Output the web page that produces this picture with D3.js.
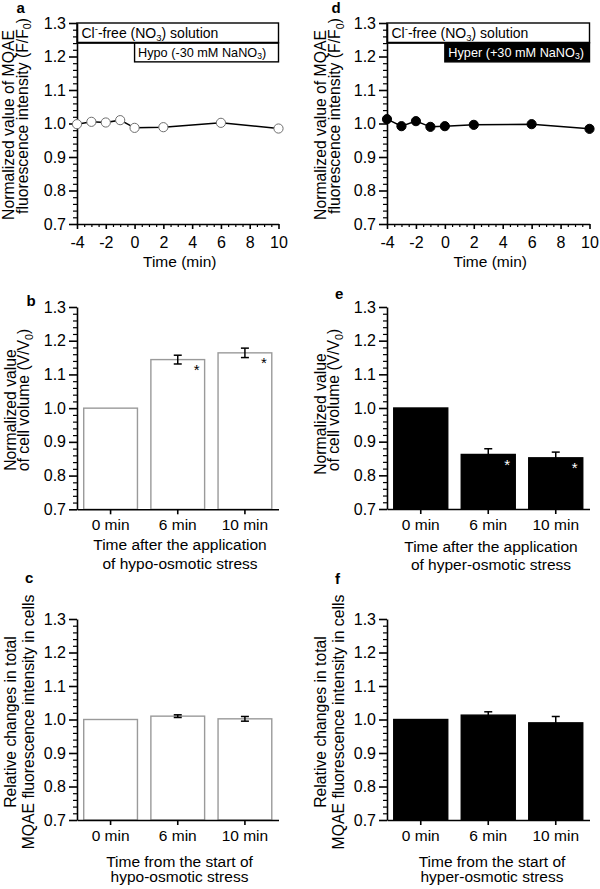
<!DOCTYPE html>
<html><head><meta charset="utf-8">
<script src="https://cdn.jsdelivr.net/npm/d3@7"></script>
<style>
body{margin:0;background:#fff}
svg{display:block;font-family:"Liberation Sans",Arial,Helvetica,sans-serif}
</style></head><body>
<svg id="chart" width="600" height="889"></svg>
<script>
// ---------- data ----------
const timeMin = [-4, -3, -2, -1, 0, 2, 6, 10];
const hypoMQAE = [0.998, 1.005, 1.003, 1.010, 0.987, 0.989, 1.002, 0.985];
const hyperMQAE = [1.013, 0.992, 1.007, 0.990, 0.992, 0.996, 0.998, 0.984];
const barCategories = ["0 min", "6 min", "10 min"];
const hypoVolume = [1.0, 1.144, 1.164];
const hypoVolumeErr = [0, 0.013, 0.014];
const hyperVolume = [1.0, 0.862, 0.852];
const hyperVolumeErr = [0, 0.017, 0.017];
const hypoTotal = [1.0, 1.010, 1.002];
const hypoTotalErr = [0, 0.004, 0.007];
const hyperTotal = [1.0, 1.013, 0.990];
const hyperTotalErr = [0, 0.010, 0.019];
const volumeSignificant = [false, true, true];
const totalSignificant = [false, false, false];
const yTicks = [0.7, 0.8, 0.9, 1.0, 1.1, 1.2, 1.3];
const timeTicks = [-4, -2, 0, 2, 4, 6, 8, 10];
const yDomain = [0.7, 1.3];
const timeDomain = [-4, 10];

// ---------- helpers ----------
const svg = d3.select("#chart");
const FONT_TICK = 16, FONT_TITLE = 15.5, FONT_YTITLE = 15.75;

function styleAxis(sel, w) {
  sel.selectAll("path.domain").attr("stroke", "#000").attr("stroke-width", w);
  sel.selectAll(".tick line").attr("stroke", "#000").attr("stroke-width", w);
  sel.selectAll(".tick text").attr("fill", "#000").attr("font-family", null);
  sel.attr("font-family", null);
}

function drawYAxis(x0, y) {
  const minor = d3.range(0, 31).map(i => +(0.7 + i * 0.02).toFixed(2))
    .filter(v => Math.abs(v * 10 - Math.round(v * 10)) > 1e-6);
  const gm = svg.append("g").attr("transform", `translate(${x0},0)`)
    .call(d3.axisLeft(y).tickValues(minor).tickSize(4).tickFormat("").tickSizeOuter(0));
  gm.select(".domain").remove();
  styleAxis(gm, 1.2);
  const g = svg.append("g").attr("transform", `translate(${x0},0)`)
    .call(d3.axisLeft(y).tickValues(yTicks).tickSize(8).tickPadding(3).tickSizeOuter(0)
      .tickFormat(d3.format(".1f")));
  g.attr("font-size", FONT_TICK);
  styleAxis(g, 1.6);
}

function richText(parent, x, y, segs, size, opts = {}) {
  const t = parent.append("text").attr("x", x).attr("y", y).attr("font-size", size)
    .attr("fill", opts.fill || "#000");
  if (opts.anchor) t.attr("text-anchor", opts.anchor);
  if (opts.rotate) t.attr("transform", `rotate(-90,${x},${y})`);
  let shift = 0;
  segs.forEach(s => {
    const kind = typeof s === "string" ? "n" : s.k;
    const txt = typeof s === "string" ? s : s.t;
    let target = 0, fs = size;
    if (kind === "sub") { target = size * 0.22; fs = size * 0.68; }
    if (kind === "sup") { target = -size * 0.38; fs = size * 0.68; }
    t.append("tspan").attr("dy", target - shift).attr("font-size", fs).text(txt);
    shift = target;
  });
  return t;
}

function yTitle(lines) {
  lines.forEach(l => richText(svg, l.x, l.y, l.segs, FONT_YTITLE, { anchor: "middle", rotate: true }));
}

function panelLetter(ch, x, y) {
  svg.append("text").attr("x", x).attr("y", y).attr("font-size", 15)
    .attr("font-weight", "bold").attr("fill", "#000").text(ch);
}

// ---------- line panels ----------
function linePanel(p) {
  const x = d3.scaleLinear().domain(timeDomain).range([p.x0, p.x1]);
  const y = d3.scaleLinear().domain(yDomain).range([p.yBot, p.yTop]);

  // annotation boxes
  const bTop = 1.3, bMid = 1.241, bBot = 1.184;
  svg.append("rect").attr("x", x(-4)).attr("y", y(bTop)).attr("width", x(10) - x(-4))
    .attr("height", y(bMid) - y(bTop)).attr("fill", "#fff").attr("stroke", "#000").attr("stroke-width", 1.4);
  svg.append("rect").attr("x", x(0)).attr("y", y(bMid)).attr("width", x(10) - x(0))
    .attr("height", y(bBot) - y(bMid)).attr("fill", p.filled ? "#000" : "#fff")
    .attr("stroke", "#000").attr("stroke-width", 1.4);
  svg.append("line").attr("x1", x(-4)).attr("x2", x(10)).attr("y1", y(bMid)).attr("y2", y(bMid))
    .attr("stroke", "#000").attr("stroke-width", 2);
  richText(svg, x(-4) + 4.5, y(bTop) + 14.5,
    ["Cl", { k: "sup", t: "-" }, "-free (NO", { k: "sub", t: "3" }, ") solution"], 14);
  richText(svg, x(0) + 3.5, y(bMid) + 13.8, p.boxText, 12.7, { fill: p.filled ? "#fff" : "#000" });

  drawYAxis(p.x0, y);

  // x axis
  const minorX = d3.range(-4, 10.01, 0.5).filter(v => v % 2 !== 0);
  const gm = svg.append("g").attr("transform", `translate(0,${p.yBot})`)
    .call(d3.axisBottom(x).tickValues(minorX).tickSize(3).tickFormat("").tickSizeOuter(0));
  gm.select(".domain").remove();
  styleAxis(gm, 1.2);
  const gx = svg.append("g").attr("transform", `translate(0,${p.yBot})`)
    .call(d3.axisBottom(x).tickValues(timeTicks).tickSize(5).tickPadding(8).tickSizeOuter(0)
      .tickFormat(d => d < 0 ? "-" + Math.abs(d) : String(d)));
  gx.attr("font-size", FONT_TICK);
  styleAxis(gx, 1.6);
  svg.append("text").attr("x", (p.x0 + p.x1) / 2 + 2).attr("y", p.yBot + 43)
    .attr("text-anchor", "middle").attr("font-size", FONT_TITLE).attr("fill", "#000").text("Time (min)");

  // series
  const pts = timeMin.map((t, i) => [t, p.values[i]]);
  svg.append("path").datum(pts)
    .attr("d", d3.line().x(d => x(d[0])).y(d => y(d[1])))
    .attr("fill", "none").attr("stroke", "#000").attr("stroke-width", 1.5);
  svg.append("g").selectAll("circle").data(pts).join("circle")
    .attr("cx", d => x(d[0])).attr("cy", d => y(d[1])).attr("r", 4.6)
    .attr("fill", p.filled ? "#000" : "#fff")
    .attr("stroke", p.filled ? "#000" : "#6e6e6e").attr("stroke-width", 1);
}

// ---------- bar panels ----------
function barPanel(p) {
  const x = d3.scaleBand().domain(barCategories).range([p.x0, p.x1]).paddingInner(0.2).paddingOuter(0.1);
  const y = d3.scaleLinear().domain(yDomain).range([p.yBot, p.yTop]);
  const data = barCategories.map((c, i) => ({ c, v: p.values[i], e: p.errs[i], s: p.sig[i] }));

  svg.append("g").selectAll("rect").data(data).join("rect")
    .attr("x", d => x(d.c)).attr("width", x.bandwidth())
    .attr("y", d => y(d.v)).attr("height", d => y(0.7) - y(d.v))
    .attr("fill", p.filled ? "#000" : "#fff")
    .attr("stroke", p.filled ? "#000" : "#9a9a9a").attr("stroke-width", 1.4);

  const eb = svg.append("g").attr("stroke", "#000").attr("stroke-width", 1.5);
  data.filter(d => d.e > 0).forEach(d => {
    const cx = x(d.c) + x.bandwidth() / 2;
    eb.append("line").attr("x1", cx).attr("x2", cx).attr("y1", y(d.v - d.e)).attr("y2", y(d.v + d.e));
    eb.append("line").attr("x1", cx - 4).attr("x2", cx + 4).attr("y1", y(d.v + d.e)).attr("y2", y(d.v + d.e));
    eb.append("line").attr("x1", cx - 4).attr("x2", cx + 4).attr("y1", y(d.v - d.e)).attr("y2", y(d.v - d.e));
  });

  data.filter(d => d.s).forEach(d => {
    const cx = x(d.c) + x.bandwidth() / 2;
    svg.append("text").attr("x", cx + 19).attr("y", y(d.v) + 15.5)
      .attr("text-anchor", "middle").attr("font-size", 15)
      .attr("fill", p.filled ? "#fff" : "#000").text("*");
  });

  drawYAxis(p.x0, y);
  const gx = svg.append("g").attr("transform", `translate(0,${p.yBot})`)
    .call(d3.axisBottom(x).tickSize(5).tickPadding(5).tickSizeOuter(0));
  gx.attr("font-size", FONT_TITLE);
  styleAxis(gx, 1.6);

  p.xTitle.forEach((t, i) => {
    svg.append("text").attr("x", p.titleX).attr("y", p.titleY[i]).attr("text-anchor", "middle")
      .attr("font-size", FONT_TITLE).attr("fill", "#000").text(t);
  });
}

// ---------- layout ----------
const L = { x0: 77, x1: 278.5 }, R = { x0: 387, x1: 589.5 };

linePanel({ ...L, yTop: 23, yBot: 224, values: hypoMQAE, filled: false,
  boxText: ["Hypo (-30 mM NaNO", { k: "sub", t: "3" }, ")"] });
linePanel({ ...R, yTop: 23, yBot: 224, values: hyperMQAE, filled: true,
  boxText: ["Hyper (+30 mM NaNO", { k: "sub", t: "3" }, ")"] });

barPanel({ ...L, yTop: 307, yBot: 509.3, values: hypoVolume, errs: hypoVolumeErr, sig: volumeSignificant,
  filled: false, xTitle: ["Time after the application", "of hypo-osmotic stress"], titleX: 180, titleY: [550, 568.5] });
barPanel({ ...R, yTop: 307, yBot: 509, values: hyperVolume, errs: hyperVolumeErr, sig: volumeSignificant,
  filled: true, xTitle: ["Time after the application", "of hyper-osmotic stress"], titleX: 491, titleY: [551.5, 570] });
barPanel({ ...L, yTop: 619, yBot: 820, values: hypoTotal, errs: hypoTotalErr, sig: totalSignificant,
  filled: false, xTitle: ["Time from the start of", "hypo-osmotic stress"], titleX: 179.5, titleY: [866.5, 882] });
barPanel({ ...R, yTop: 619, yBot: 820, values: hyperTotal, errs: hyperTotalErr, sig: totalSignificant,
  filled: true, xTitle: ["Time from the start of", "hyper-osmotic stress"], titleX: 492, titleY: [866.5, 882] });

// y titles
const mqaeL1 = ["Normalized value of MQAE"];
const mqaeL2 = ["fluorescence intensity (F/F", { k: "sub", t: "0" }, ")"];
const volL1 = ["Normalized value"];
const volL2 = ["of cell volume (V/V", { k: "sub", t: "0" }, ")"];
const totL1 = ["Relative changes in total"];
const totL2 = ["MQAE fluorescence intensity in cells"];
yTitle([{ x: 13.9, y: 125, segs: mqaeL1 }, { x: 27.9, y: 116, segs: mqaeL2 }]);
yTitle([{ x: 326.2, y: 125, segs: mqaeL1 }, { x: 340.2, y: 116, segs: mqaeL2 }]);
yTitle([{ x: 16.2, y: 410, segs: volL1 }, { x: 29.2, y: 400, segs: volL2 }]);
yTitle([{ x: 326.2, y: 414, segs: volL1 }, { x: 339.2, y: 400, segs: volL2 }]);
yTitle([{ x: 16.2, y: 722, segs: totL1 }, { x: 33.9, y: 722, segs: totL2 }]);
yTitle([{ x: 326.2, y: 722, segs: totL1 }, { x: 344, y: 722, segs: totL2 }]);

// panel letters
panelLetter("a", 16.5, 12.5);
panelLetter("d", 331.5, 12.5);
panelLetter("b", 26.5, 306);
panelLetter("e", 335, 299);
panelLetter("c", 25, 582.5);
panelLetter("f", 335, 584);
</script>
</body></html>
